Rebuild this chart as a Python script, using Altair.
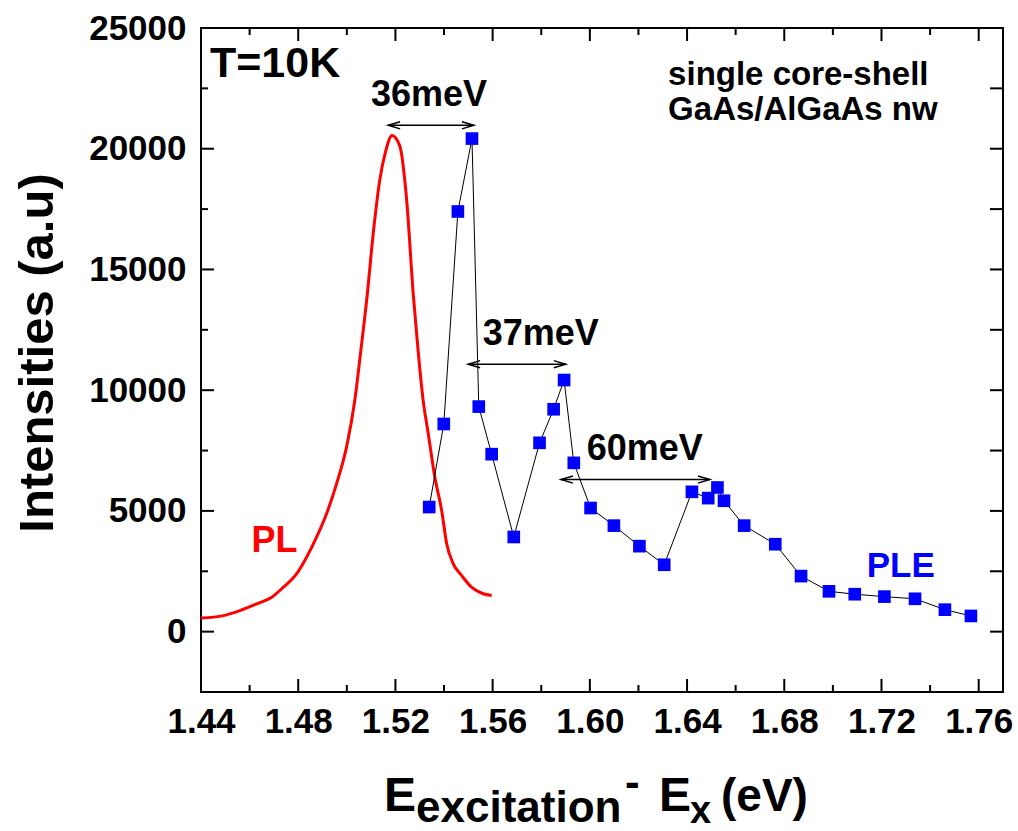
import altair as alt
import pandas as pd

# ---------------- data ----------------
pl_x = [1.4400, 1.4492, 1.4560, 1.4629, 1.4691, 1.4739, 1.4794, 1.4835, 1.4876,
        1.4917, 1.4958, 1.4999, 1.5033, 1.5058, 1.5082, 1.5109, 1.5136, 1.5160,
        1.5186, 1.5218, 1.5246, 1.5273, 1.5293, 1.5314, 1.5335, 1.5362, 1.5390,
        1.5411, 1.5438, 1.5472, 1.5513, 1.5561, 1.5596]
pl_y = [560, 664, 872, 1150, 1425, 1840, 2400, 3090, 3920,
        4890, 6130, 7650, 9590, 11670, 13750, 16520, 18730, 19900,
        20550, 20110, 17900, 14020, 11670, 9590, 8210, 6410, 5030,
        3640, 2810, 2330, 1840, 1570, 1500]

ple_x = [1.5339, 1.5399, 1.5457, 1.5515, 1.5543, 1.5596, 1.5687, 1.5793, 1.5851,
         1.5894, 1.5934, 1.6003, 1.6099, 1.6204, 1.6306, 1.6420, 1.6487, 1.6525,
         1.6552, 1.6635, 1.6763, 1.6869, 1.6984, 1.7090, 1.7212, 1.7338, 1.7461,
         1.7568]
ple_y = [5160, 8600, 17400, 20420, 9320, 7350, 3920, 7820, 9210,
         10420, 6990, 5120, 4390, 3540, 2770, 5790, 5530, 5970,
         5420, 4390, 3620, 2300, 1670, 1550, 1450, 1360, 910,
         650]

# arrows (energy separations)
arrow_x1 = [1.5170, 1.5499, 1.5881]
arrow_x2 = [1.5523, 1.5901, 1.6494]
arrow_y = [20970, 11076, 6300]

# tick values
x_major = [1.44, 1.48, 1.52, 1.56, 1.60, 1.64, 1.68, 1.72, 1.76]
x_minor = [1.46, 1.50, 1.54, 1.58, 1.62, 1.66, 1.70, 1.74]
y_major = [0, 5000, 10000, 15000, 20000, 25000]
y_minor = [-2500, 2500, 7500, 12500, 17500, 22500]

# text annotations (data coordinates)
sep_text = ["36meV", "37meV", "60meV"]
sep_x = [1.5338, 1.5798, 1.6226]
sep_y = [21773, 11877, 7101]

# ---------------- chart ----------------
W, H = 802, 664
FONT = "Liberation Sans"

xs = alt.Scale(domain=[1.44, 1.77], nice=False, zero=False)
ys = alt.Scale(domain=[-2500, 25000], nice=False, zero=False)

x_axis = alt.Axis(values=x_major, format=".2f", title=None, ticks=False, tickSize=0,
                  domain=False, grid=False, labelFontSize=35, labelFont=FONT,
                  labelFontWeight="bold", labelColor="black", labelPadding=12,
                  labelFlush=False)
y_axis = alt.Axis(values=y_major, format="d", title=None, ticks=False, tickSize=0,
                  domain=False, grid=False, labelFontSize=35, labelFont=FONT,
                  labelFontWeight="bold", labelColor="black", labelPadding=15,
                  labelFlush=False)

X = alt.X("x:Q", scale=xs, axis=x_axis)
Y = alt.Y("y:Q", scale=ys, axis=y_axis)

pl_df = pd.DataFrame({"x": pl_x, "y": pl_y})
ple_df = pd.DataFrame({"x": ple_x, "y": ple_y})
arr_df = pd.DataFrame({"x": arrow_x1, "x2": arrow_x2, "y": arrow_y})
arr_l = pd.DataFrame({"x": arrow_x1, "y": arrow_y})
arr_r = pd.DataFrame({"x": arrow_x2, "y": arrow_y})
sep_df = pd.DataFrame({"t": sep_text, "x": sep_x, "y": sep_y})

layers = []

# PL curve
layers.append(alt.Chart(pl_df).mark_line(color="#ff0000", strokeWidth=3,
                                         interpolate="monotone").encode(x=X, y=Y))
# PLE connecting line and markers
layers.append(alt.Chart(ple_df).mark_line(color="black", strokeWidth=1).encode(x=X, y=Y))
layers.append(alt.Chart(ple_df).mark_point(shape="square", filled=True, size=160,
                                           color="#0000ff", opacity=1).encode(x=X, y=Y))

# arrows
layers.append(alt.Chart(arr_df).mark_rule(color="black", strokeWidth=1.5).encode(
    x=X, x2=alt.X2("x2:Q"), y=Y))
layers.append(alt.Chart(arr_l).mark_point(shape="M2,-0.6L0,0L2,0.6", size=144, filled=False,
                                          color="black", strokeWidth=1.5, opacity=1).encode(x=X, y=Y))
layers.append(alt.Chart(arr_r).mark_point(shape="M-2,-0.6L0,0L-2,0.6", size=144, filled=False,
                                          color="black", strokeWidth=1.5, opacity=1).encode(x=X, y=Y))

# separation labels
layers.append(alt.Chart(sep_df).mark_text(font=FONT, fontWeight="bold", fontSize=36,
                                          align="center", baseline="alphabetic",
                                          color="black").encode(x=X, y=Y, text="t:N"))


def label(text, x, y, size, color="black", align="left", line_height=None):
    df = pd.DataFrame({"t": [text], "x": [x], "y": [y]})
    kw = dict(font=FONT, fontWeight="bold", fontSize=size, align=align,
              baseline="alphabetic", color=color)
    if line_height is not None:
        kw.update(lineBreak="\n", lineHeight=line_height)
    return alt.Chart(df).mark_text(**kw).encode(x=X, y=Y, text="t:N")


layers.append(label("T=10K", 1.4437, 22965, 43))
layers.append(label("single core-shell\nGaAs/AlGaAs nw", 1.6322, 22654, 33, line_height=35))
layers.append(label("PLE", 1.7279, 2255, 35, color="#0000ff", align="center"))
layers.append(label("PL", 1.4702, 3293, 36, color="#ff0000", align="center"))

# inward ticks on all four sides
def xticks(vals, length):
    df = pd.DataFrame({"x": vals})
    bottom = alt.Chart(df).mark_rule(color="black", strokeWidth=2).encode(
        x=X, y=alt.value(H), y2=alt.value(H - length))
    top = alt.Chart(df).mark_rule(color="black", strokeWidth=2).encode(
        x=X, y=alt.value(0), y2=alt.value(length))
    return [bottom, top]


def yticks(vals, length_left, length_right):
    df = pd.DataFrame({"y": vals})
    left = alt.Chart(df).mark_rule(color="black", strokeWidth=2).encode(
        y=Y, x=alt.value(0), x2=alt.value(length_left))
    right = alt.Chart(df).mark_rule(color="black", strokeWidth=2).encode(
        y=Y, x=alt.value(W), x2=alt.value(W - length_right))
    return [left, right]


layers += xticks(x_major, 13)
layers += xticks(x_minor, 7)
layers += yticks(y_major, 13, 13)
layers += yticks(y_minor, 7, 13)

# y-axis title
one = pd.DataFrame({"a": [0]})
layers.append(alt.Chart(one).mark_text(text="Intensities (a.u)", font=FONT, fontWeight="bold",
                                       fontSize=49, angle=270, align="center",
                                       baseline="alphabetic", color="black").encode(
    x=alt.value(-148), y=alt.value(325)))

# x-axis title with subscripts
def title_piece(text, px, py, size):
    return alt.Chart(one).mark_text(text=text, font=FONT, fontWeight="bold", fontSize=size,
                                    align="left", baseline="alphabetic", color="black").encode(
        x=alt.value(px), y=alt.value(py))


layers.append(title_piece("E", 183, 783, 48))
layers.append(title_piece("excitation", 215, 794, 44))
layers.append(title_piece("-", 424, 769, 44))
layers.append(title_piece("E", 458, 783, 48))
layers.append(title_piece("x", 489, 795, 38))
layers.append(title_piece("(eV)", 520, 783, 46))

chart = alt.layer(*layers).properties(
    width=W, height=H,
    padding={"left": 201, "top": 28, "right": 15, "bottom": 139},
    autosize=alt.AutoSizeParams(type="none"),
    background="white",
).configure_view(stroke="black", strokeWidth=2)

chart.save("out.html", embed_options={"renderer": "svg", "actions": False})
